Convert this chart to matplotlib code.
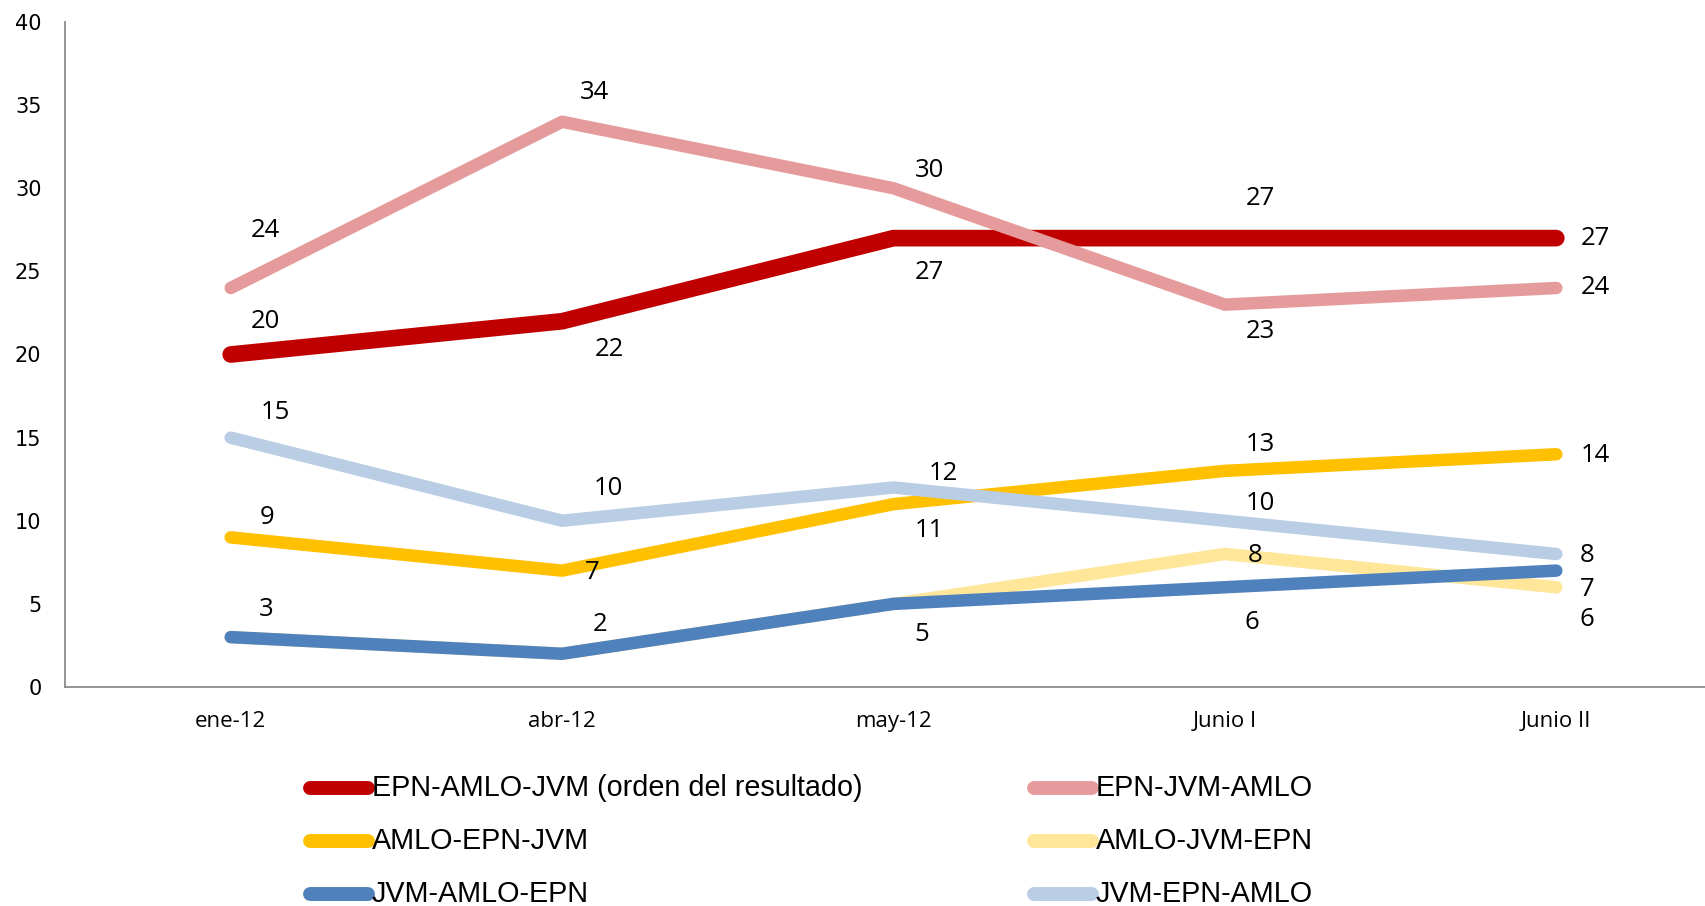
import matplotlib
matplotlib.use("Agg")
import matplotlib.pyplot as plt
from matplotlib.lines import Line2D
from matplotlib import font_manager
from matplotlib.textpath import TextPath
from matplotlib.font_manager import FontProperties

categories = ["ene-12", "abr-12", "may-12", "Junio I", "Junio II"]
series_names = ["EPN-AMLO-JVM (orden del resultado)", "EPN-JVM-AMLO", "AMLO-EPN-JVM",
                "AMLO-JVM-EPN", "JVM-AMLO-EPN", "JVM-EPN-AMLO"]
epn_amlo_jvm = [20, 22, 27, 27, 27]
epn_jvm_amlo = [24, 34, 30, 23, 24]
amlo_epn_jvm = [9, 7, 11, 13, 14]
amlo_jvm_epn = [3, 2, 5, 8, 6]
jvm_amlo_epn = [3, 2, 5, 6, 7]
jvm_epn_amlo = [15, 10, 12, 10, 8]
y_ticks = [0, 5, 10, 15, 20, 25, 30, 35, 40]

series_values = [epn_amlo_jvm, epn_jvm_amlo, amlo_epn_jvm, amlo_jvm_epn, jvm_amlo_epn, jvm_epn_amlo]
colors = ["#C00000", "#E59B9B", "#FFC000", "#FFE699", "#4F81BD", "#B9CDE5"]
widths = [12, 9, 9, 9, 9, 9]

# label offsets (pixels in reference, dx right, dy down); None = hidden
offsets = [
    [(32, -30), (43, 26), (33, 32), (33, -36), (36, 0)],
    [(32, -53), (30, -27), (33, -16), (33, 25), (36, 0)],
    [(33, -18), (28, 2), (33, 24), (33, -24), (36, 1)],
    [None, None, None, (28, 1), (28, 30)],
    [(33, -25), (35, -27), (26, 28), (25, 32), (28, 17)],
    [(41, -23), (43, -30), (46, -13), (33, -16), (28, 1)],
]

W, H = 1706, 906
fig = plt.figure(figsize=(W / 100, H / 100), dpi=100)
ax = fig.add_axes([65 / W, (H - 687) / H, 1657 / W, (687 - 22) / H])

x = list(range(len(categories)))
for vals, c, lw, offs, name in zip(series_values, colors, widths, offsets, series_names):
    ax.plot(x, vals, color=c, lw=lw, solid_capstyle="round", solid_joinstyle="round",
            label=name)
    for xi, v, o in zip(x, vals, offs):
        if o is None:
            continue
        ax.annotate(str(v), (xi, v), xytext=(o[0] * 1.088 * 0.72, -o[1] * 1.088 * 0.72),
                    textcoords="offset points", ha="center", va="center",
                    fontsize=18.5, family="Open Sans", color="black")

ax.set_xlim(-0.5, 4.5)
ax.set_ylim(0, 40)
ax.set_yticks(y_ticks)
ax.set_yticklabels([str(t) for t in y_ticks], family="DejaVu Sans", fontsize=15)
ax.set_xticks(x)
ax.set_xticklabels(categories, family="Open Sans", fontsize=16)
ax.tick_params(axis="y", length=0, pad=17)
ax.tick_params(axis="x", length=0, pad=17)
for s in ["top", "right"]:
    ax.spines[s].set_visible(False)
for s in ["left", "bottom"]:
    ax.spines[s].set_color("#8C8C8C")
    ax.spines[s].set_linewidth(1.3)

# legend, drawn row-wise like the reference
try:
    path = font_manager.findfont(FontProperties(family="Liberation Sans Narrow"),
                                 fallback_to_default=False)
    leg_family = "Liberation Sans Narrow" if "Narrow" in path else "Liberation Sans"
except Exception:
    leg_family = "Liberation Sans"
tp = TextPath((0, 0), series_names[0], size=100, prop=FontProperties(family=leg_family))
w100 = tp.get_extents().width
target_px = 487
leg_size = 100 * target_px / (w100 * 100 / 72)

row_y = [788, 841, 894]
col_x = [310, 1034]
for i, (name, c) in enumerate(zip(series_names, colors)):
    r, col = divmod(i, 2)
    x0 = col_x[col]
    yf = (H - row_y[r]) / H
    fig.add_artist(Line2D([x0 / W, (x0 + 58) / W], [yf, yf], color=c, lw=10,
                          solid_capstyle="round", transform=fig.transFigure))
    fig.text((x0 + 62) / W, yf, name, family=leg_family, fontsize=leg_size,
             va="center", ha="left", color="black")

fig.savefig("out.png", dpi=100)
